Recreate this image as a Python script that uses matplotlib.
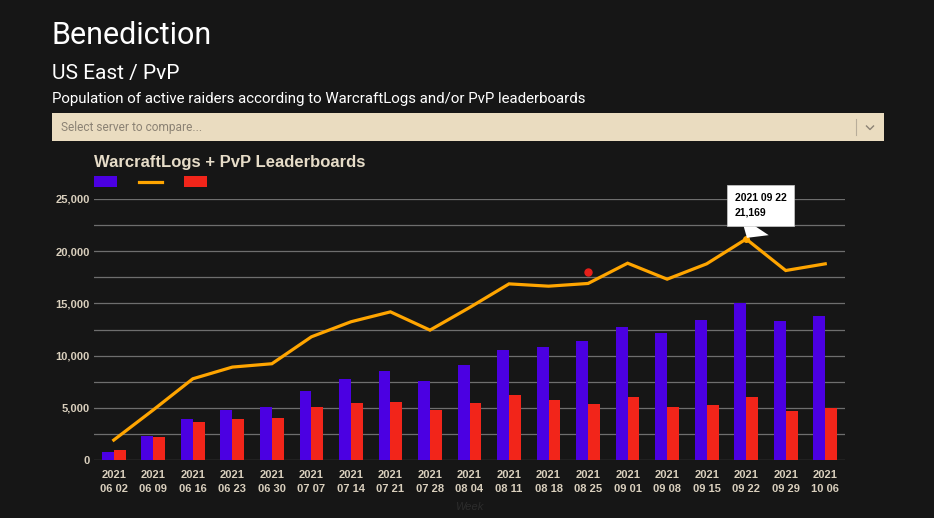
import numpy as np
import matplotlib
matplotlib.use("Agg")
import matplotlib.pyplot as plt
from matplotlib.patches import Rectangle
from matplotlib.lines import Line2D
from matplotlib.ticker import FuncFormatter, MultipleLocator

# data
weeks = ["06 02", "06 09", "06 16", "06 23", "06 30", "07 07", "07 14", "07 21",
         "07 28", "08 04", "08 11", "08 18", "08 25", "09 01", "09 08", "09 15",
         "09 22", "09 29", "10 06"]
warcraftlogs = [800, 2330, 3890, 4820, 5100, 6600, 7750, 8490, 7560, 9060,
                10500, 10790, 11420, 12730, 12150, 13430, 15020, 13300, 13810]
total = [1910, 4800, 7780, 8900, 9220, 11800, 13240, 14190, 12440, 14600,
         16870, 16650, 16910, 18850, 17320, 18790, 21169, 18150, 18790]
pvp = [960, 2230, 3670, 3950, 4050, 5040, 5420, 5550, 4780, 5450,
       6250, 5770, 5390, 6030, 5100, 5260, 6030, 4690, 5010]
marker_week = "08 25"
marker_value = 18000
tooltip_week = "09 22"

BG = "#161616"
BLUE = "#4b00e2"
ORANGE = "#ffa500"
RED = "#f2251a"
BEIGE = "#e6dcc8"
W, H = 934, 518


def fx(x):
    return x / W


def fy(y):
    return 1 - y / H


fig = plt.figure(figsize=(W / 100, H / 100), dpi=100, facecolor=BG)

# page header
fig.text(fx(52), fy(44.5), "Benediction", color="white", fontsize=22,
         family="Roboto", va="baseline")
fig.text(fx(52), fy(78.5), "US East / PvP", color="white", fontsize=15,
         family="Roboto", va="baseline")
fig.text(fx(52), fy(102.5),
         "Population of active raiders according to WarcraftLogs and/or PvP leaderboards",
         color="white", fontsize=10.8, family="Roboto", va="baseline")

# select box
fig.patches.append(Rectangle((fx(52), fy(141)), fx(884 - 52), (141 - 113) / H,
                             transform=fig.transFigure, facecolor="#eadcc0",
                             edgecolor="none"))
fig.text(fx(61), fy(127.5), "Select server to compare...", color="#8b8274",
         fontsize=8.6, family="Roboto", va="center")
fig.lines.append(Line2D([fx(856), fx(856)], [fy(119), fy(135)],
                        transform=fig.transFigure, color="#b8ad9a", lw=0.8))
fig.lines.append(Line2D([fx(866.5), fx(870), fx(873.5)], [fy(126), fy(129.5), fy(126)],
                        transform=fig.transFigure, color="#8b8274", lw=1.0))

# chart title + legend swatches
fig.text(fx(94), fy(167), "WarcraftLogs + PvP Leaderboards", color=BEIGE,
         fontsize=12, weight="bold", family="Liberation Sans", va="baseline")
fig.patches.append(Rectangle((fx(94), fy(187)), fx(23), 11 / H,
                             transform=fig.transFigure, facecolor=BLUE, edgecolor="none"))
fig.lines.append(Line2D([fx(139), fx(162)], [fy(181.5), fy(181.5)],
                        transform=fig.transFigure, color=ORANGE, lw=2.3))
fig.patches.append(Rectangle((fx(184), fy(187)), fx(23), 11 / H,
                             transform=fig.transFigure, facecolor=RED, edgecolor="none"))

# plot area
ax = fig.add_axes([fx(94), fy(460), fx(845 - 94), (460 - 199) / H])
ax.set_facecolor(BG)
x = np.arange(len(weeks))

ax.bar(x - 0.15, warcraftlogs, width=0.3, color=BLUE, zorder=2)
ax.bar(x + 0.15, pvp, width=0.3, color=RED, zorder=2)
ax.plot(x, total, color=ORANGE, lw=2.3, zorder=3, solid_joinstyle="miter")

mi = weeks.index(marker_week)
ax.plot([mi], [marker_value], "o", color="#e8201a", ms=5, zorder=4)

ti = weeks.index(tooltip_week)
ax.plot([ti], [total[ti]], "o", color=ORANGE, ms=4, zorder=4)
ax.annotate(f"2021 {tooltip_week}\n{total[ti]:,}", xy=(ti, total[ti]),
            xytext=(760.5, H - 205.5), textcoords="figure pixels",
            ha="center", va="center", multialignment="left",
            fontsize=7.5, weight="bold", family="Liberation Sans", color="black",
            linespacing=1.6,
            bbox=dict(boxstyle="square,pad=0.75", fc="white", ec="#cccccc", lw=0.5),
            arrowprops=dict(arrowstyle="wedge,tail_width=3.2,shrink_factor=0.5",
                            fc="white", ec="none", relpos=(0.5, 0.02),
                            shrinkA=0, shrinkB=1),
            zorder=10)

ax.set_xlim(-0.5, len(weeks) - 0.5)
ax.set_ylim(0, 25000)
ax.yaxis.set_major_locator(MultipleLocator(5000))
ax.yaxis.set_minor_locator(MultipleLocator(2500))
ax.yaxis.set_major_formatter(FuncFormatter(lambda v, p: f"{int(v):,}"))
ax.grid(axis="y", which="both", color="#6e6e6e", lw=0.9, zorder=0)
ax.set_axisbelow(True)
for s in ax.spines.values():
    s.set_visible(False)

ax.set_xticks(x)
ax.set_xticklabels([f"2021\n{w}" for w in weeks])
ax.tick_params(axis="both", which="both", length=0, colors="#d9cfbd")
ax.tick_params(axis="x", pad=7)
ax.tick_params(axis="y", pad=3)
for lab in ax.get_xticklabels() + ax.get_yticklabels():
    lab.set_family("Liberation Sans")
    lab.set_weight("bold")
    lab.set_fontsize(8)
for lab in ax.get_xticklabels():
    lab.set_linespacing(1.55)

ax.set_xlabel("Week", color="#2c2c2c", fontsize=8, style="italic",
              family="Liberation Sans", labelpad=6)

fig.savefig("out.png", dpi=100, facecolor=BG)
